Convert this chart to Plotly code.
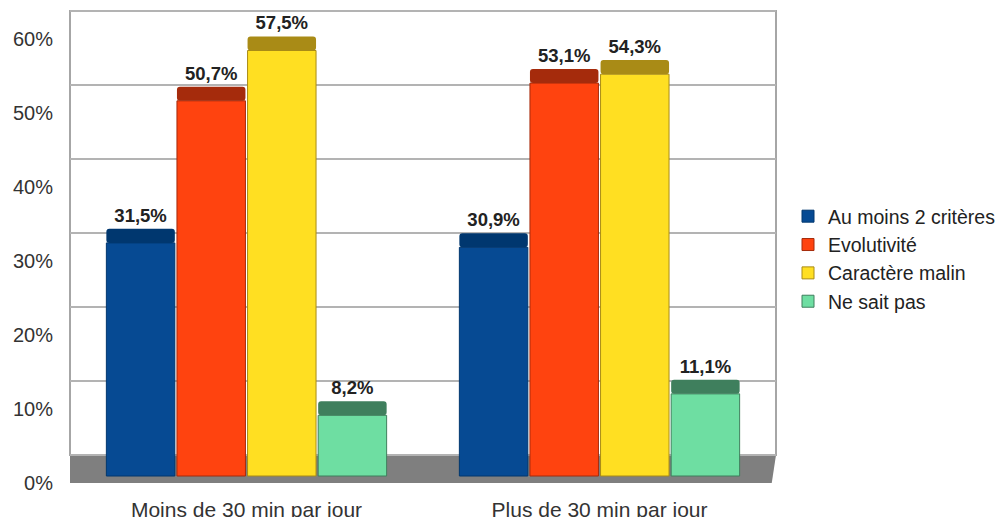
import plotly.graph_objects as go

categories = ["Moins de 30 min par jour", "Plus de 30 min par jour"]
series_names = ["Au moins 2 critères", "Evolutivité", "Caractère malin", "Ne sait pas"]
au_moins_2 = [31.5, 30.9]
evolutivite = [50.7, 53.1]
caractere_malin = [57.5, 54.3]
ne_sait_pas = [8.2, 11.1]
y_ticks = [0, 10, 20, 30, 40, 50, 60]
y_tick_labels = ["0%", "10%", "20%", "30%", "40%", "50%", "60%"]

series_values = [au_moins_2, evolutivite, caractere_malin, ne_sait_pas]
front_colors = ["#064a93", "#ff430f", "#ffdf22", "#6edea2"]
cap_colors = ["#00376f", "#a52b0c", "#a98b16", "#3f7f5d"]
CAP = 1.9  # thickness of the 3D top face, in axis units

# pixel geometry helpers
W, H = 1008, 517
L, R, T, B = 70, 232, 5, 27
plot_top, plot_bot = T, H - B
PX = 7.4  # pixels per percent


def rng(zero_px):
    return [-(plot_bot - zero_px) / PX, (zero_px - plot_top) / PX]


fig = go.Figure()

for i, (name, vals) in enumerate(zip(series_names, series_values)):
    fig.add_trace(go.Bar(
        x=categories, y=vals, name=name, offsetgroup=str(i),
        marker=dict(color=front_colors[i], line=dict(color=cap_colors[i], width=1)),
        yaxis="y", hoverinfo="skip",
    ))
for i, (name, vals) in enumerate(zip(series_names, series_values)):
    fig.add_trace(go.Bar(
        x=categories, y=[CAP] * len(vals), base=vals, offsetgroup=str(i),
        marker=dict(color=cap_colors[i], line=dict(width=0), cornerradius=3),
        text=[f"{v:.1f}%".replace(".", ",") for v in vals],
        textposition="outside", cliponaxis=False,
        textfont=dict(family="Liberation Sans", size=18.5, color="#222222", weight="bold"),
        showlegend=False, yaxis="y", hoverinfo="skip",
    ))

wall_top = y_ticks[-1]
floor_depth = (483 - 455) / PX

fig.update_layout(
    width=W, height=H,
    margin=dict(l=L, r=R, t=T, b=B, pad=0, autoexpand=False),
    paper_bgcolor="white", plot_bgcolor="rgba(0,0,0,0)",
    barmode="group", bargap=0.2, bargroupgap=0.03,
    font=dict(family="Liberation Sans", size=20, color="#333333"),
    xaxis=dict(range=[-0.5, 1.5], showgrid=False, zeroline=False, showline=False,
               ticks="", tickfont=dict(size=21, color="#333333"), ticklabelstandoff=5,
               automargin=False),
    yaxis=dict(range=rng(476), showgrid=False, zeroline=False, showticklabels=False,
               showline=False, automargin=False),
    yaxis2=dict(range=rng(483), overlaying="y", side="left", anchor="x",
                tickmode="array", tickvals=y_ticks, ticktext=y_tick_labels,
                showgrid=False, zeroline=False,
                showline=False, ticks="", ticklabelstandoff=16, automargin=False,
                tickfont=dict(size=20, color="#333333")),
    yaxis3=dict(range=rng(455), overlaying="y", side="left", anchor="x",
                tickvals=y_ticks, showticklabels=False, showgrid=True,
                gridcolor="#b3b3b3", gridwidth=2, zeroline=False, showline=False,
                automargin=False),
    legend=dict(x=(788 - L) / (W - L - R), y=(plot_bot - 197) / (plot_bot - plot_top),
                xanchor="left", yanchor="top", font=dict(size=19.5, color="#222222"),
                itemclick=False, tracegroupgap=0, bgcolor="rgba(0,0,0,0)"),
    showlegend=True,
    shapes=[
        # back wall border
        dict(type="rect", xref="paper", yref="y3", x0=0, x1=1, y0=0, y1=wall_top,
             line=dict(color="#a6a6a6", width=2), fillcolor="rgba(0,0,0,0)", layer="below"),
        # floor
        dict(type="path", xref="paper", yref="y3",
             path=f"M 0,0 L 1,0 L 0.994,{-floor_depth} L 0,{-floor_depth} Z",
             fillcolor="#7f7f7f", line=dict(width=0), layer="below"),
    ],
)

# invisible traces so the overlay axes are drawn
fig.add_trace(go.Scatter(x=[categories[0]], y=[0], yaxis="y2", mode="markers",
                         marker=dict(opacity=0), showlegend=False, hoverinfo="skip"))
fig.add_trace(go.Scatter(x=[categories[0]], y=[0], yaxis="y3", mode="markers",
                         marker=dict(opacity=0), showlegend=False, hoverinfo="skip"))

fig.write_html("out.html", config={"displayModeBar": False},
               post_script="document.body.style.margin='0px';document.body.style.overflow='hidden';")
